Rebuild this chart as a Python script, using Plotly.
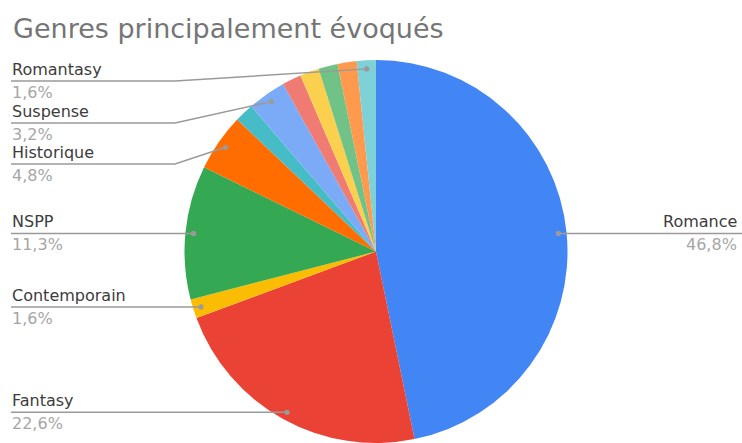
import math
import plotly.graph_objects as go

# ---- data ----
genres = ["Romance", "Fantasy", "Contemporain", "NSPP", "Historique", "Autre 1",
          "Suspense", "Autre 2", "Autre 3", "Autre 4", "Autre 5", "Romantasy"]
counts = [29, 14, 1, 7, 3, 1, 2, 1, 1, 1, 1, 1]
colors = ["#4285F4", "#EA4335", "#FBBC04", "#34A853", "#FF6D01", "#46BDC6",
          "#7BAAF7", "#F07B72", "#FCD04F", "#71C287", "#FF994D", "#7ED1D7"]
labelled = ["Romance", "Fantasy", "Contemporain", "NSPP", "Historique", "Suspense", "Romantasy"]
title = "Genres principalement évoqués"

# ---- layout constants (pixels) ----
W, H = 742, 443
CX, CY, R = 376, 252, 192
DOT_R = 0.955
FONT = "DejaVu Sans"
# label line y for stacked labels (None -> at dot height)
LABEL_Y = {"Historique": 164, "Suspense": 123, "Romantasy": 81}
ELBOW_X = 175
LEFT_X = 11

def px(x):
    return x / W

def py(y):
    return 1 - y / H

fig = go.Figure()
fig.add_trace(go.Pie(
    labels=genres, values=counts, sort=False, direction="clockwise", rotation=0,
    marker=dict(colors=colors, line=dict(width=0)), textinfo="none",
    hoverinfo="label+percent", showlegend=False,
    domain=dict(x=[px(CX - R), px(CX + R)], y=[max(0, py(CY + R)), py(CY - R)]),
))

total = sum(counts)
shapes, annotations = [], []
cum = 0
for g, c in zip(genres, counts):
    mid = (cum + c / 2) / total * 2 * math.pi
    cum += c
    if g not in labelled:
        continue
    dx = CX + DOT_R * R * math.sin(mid)
    dy = CY - DOT_R * R * math.cos(mid)
    pct = f"{100 * c / total:.1f}%".replace(".", ",")
    line_col = "#9a9a9a"
    if math.sin(mid) > 0:  # right side
        ly = dy
        path = f"M {px(dx)} {py(ly)} L {px(W)} {py(ly)}"
        tx, xa = W - 4, "right"
    else:
        ly = LABEL_Y.get(g, dy)
        if g in LABEL_Y:
            path = (f"M {px(LEFT_X)} {py(ly)} L {px(ELBOW_X)} {py(ly)} "
                    f"L {px(dx)} {py(dy)}")
        else:
            path = f"M {px(LEFT_X)} {py(ly)} L {px(dx)} {py(dy)}"
        tx, xa = LEFT_X, "left"
    shapes.append(dict(type="path", xref="paper", yref="paper", path=path,
                       line=dict(color=line_col, width=1.5)))
    shapes.append(dict(type="circle", xref="paper", yref="paper",
                       x0=px(dx - 2.6), x1=px(dx + 2.6), y0=py(dy + 2.6), y1=py(dy - 2.6),
                       fillcolor=line_col, line=dict(width=0)))
    annotations.append(dict(x=px(tx), y=py(ly - 1), xref="paper", yref="paper",
                            text=g, showarrow=False, xanchor=xa, yanchor="bottom",
                            borderpad=0, font=dict(family=FONT, size=16, color="#3c3c3c")))
    annotations.append(dict(x=px(tx), y=py(ly + 1), xref="paper", yref="paper",
                            text=pct, showarrow=False, xanchor=xa, yanchor="top",
                            borderpad=0, font=dict(family=FONT, size=16, color="#a6a6a6")))

fig.update_layout(
    width=W, height=H, margin=dict(l=0, r=0, t=0, b=0),
    paper_bgcolor="white", plot_bgcolor="white",
    title=dict(text=title, x=px(13), xanchor="left", y=py(29), yanchor="middle",
               font=dict(family=FONT, size=27, color="#757575")),
    shapes=shapes, annotations=annotations,
)

fig.write_html("out.html")
